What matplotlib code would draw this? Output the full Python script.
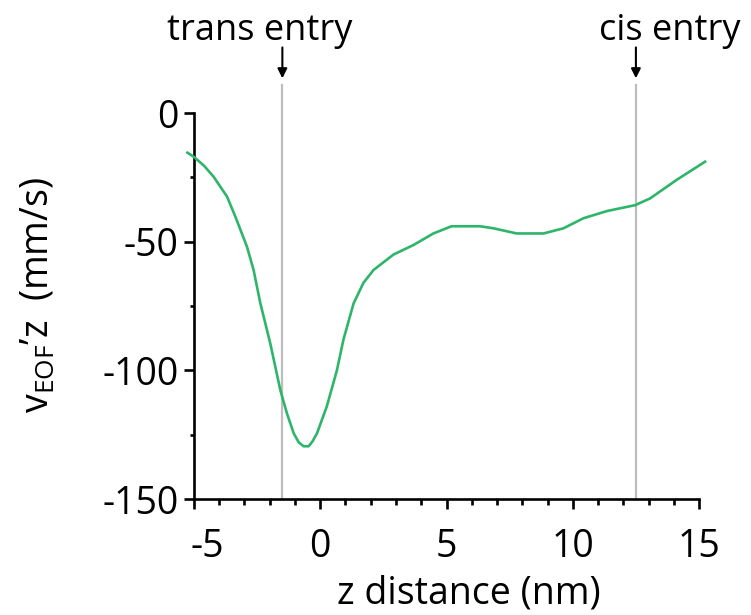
## EOF velocity profile along the pore axis

import numpy as np
import matplotlib
matplotlib.use("Agg")
import matplotlib.pyplot as plt
from matplotlib.ticker import MultipleLocator
from matplotlib.transforms import ScaledTranslation

plt.rcParams['font.family'] = ['Open Sans', 'DejaVu Sans']
plt.rcParams['mathtext.fontset'] = 'custom'
plt.rcParams['mathtext.rm'] = 'Open Sans'

# curve: z (nm) vs v_EOF,z (mm/s)
z_nm = [-5.26, -5.01, -4.6, -4.22, -3.69, -3.36, -2.9, -2.64, -2.37, -1.98,
        -1.58, -1.32, -1.05, -0.85, -0.66, -0.46, -0.3, -0.13, 0.26, 0.66,
        0.92, 1.32, 1.71, 2.11, 2.9, 3.69, 4.48, 5.2, 6.33, 6.86,
        7.78, 8.84, 9.63, 10.42, 11.35, 12.47, 13.06, 14.11, 15.24]
v_eof = [-15.4, -17, -20.5, -24.8, -32.5, -40.3, -52, -61, -74, -89.5,
         -107.7, -116.7, -124.5, -128, -129.5, -129.5, -127.5, -124.5, -114, -100,
         -88, -74, -66, -61, -55, -51.3, -46.8, -44, -44, -44.8,
         -46.8, -46.8, -44.8, -40.9, -38.1, -35.8, -33.2, -26, -18.9]

# pore entries
entry_z = [-1.5, 12.5]
entry_names = ['trans entry', 'cis entry']
entry_text_z = [-2.4, 13.85]

fig = plt.figure(figsize=(7.51, 6.15), dpi=100)
ax = fig.add_axes([0.2583, 0.1886, 0.6725, 0.6276])

for zx in entry_z:
    ax.plot([zx, zx], [-150, 11], color='#bdbdbd', lw=1.6, clip_on=False, zorder=1)

ax.plot(z_nm, v_eof, color='#2db56a', lw=1.9, clip_on=False, zorder=3)

for zx, tx, name in zip(entry_z, entry_text_z, entry_names):
    ax.annotate('', xy=(zx, 13.5), xytext=(zx, 25.5), annotation_clip=False,
                arrowprops=dict(arrowstyle='-|>', color='black', lw=1.5,
                                mutation_scale=14, shrinkA=0, shrinkB=0))
    ax.text(tx, 28.5, name, ha='center', va='baseline', fontsize=26, clip_on=False)

ax.set_xlim(-5, 15)
ax.set_ylim(-150, 0)
ax.xaxis.set_major_locator(MultipleLocator(5))
ax.xaxis.set_minor_locator(MultipleLocator(1))
ax.yaxis.set_major_locator(MultipleLocator(50))
ax.yaxis.set_minor_locator(MultipleLocator(25))

for s in ['top', 'right']:
    ax.spines[s].set_visible(False)
for s in ['left', 'bottom']:
    ax.spines[s].set_linewidth(1.9)

ax.tick_params(which='major', length=7, width=1.9, labelsize=27, pad=4)
ax.tick_params(which='minor', length=4.5, width=1.9)
ax.tick_params(axis='y', which='minor', length=3)
ax.tick_params(axis='x', which='major', pad=14)

ax.set_xticks([-5, 0, 5, 10, 15])
ax.set_xticklabels(['-5', '0', '5', '10', '15'])
ax.set_yticks([0, -50, -100, -150])
ax.set_yticklabels(['0', '-50', '-100', '-150'])
# first x label sits a bit right of its tick in the original
lab = ax.get_xticklabels()[0]
lab.set_transform(lab.get_transform() + ScaledTranslation(0.13, 0, fig.dpi_scale_trans))

ax.set_xlabel('z distance (nm)', fontsize=27)
ax.xaxis.set_label_coords(0.545, -0.195)
ax.set_ylabel(r'v$_{\mathrm{EOF}}$’z  (mm/s)', fontsize=27)
ax.yaxis.set_label_coords(-0.27, 0.528)

fig.savefig('out.png', dpi=100)
